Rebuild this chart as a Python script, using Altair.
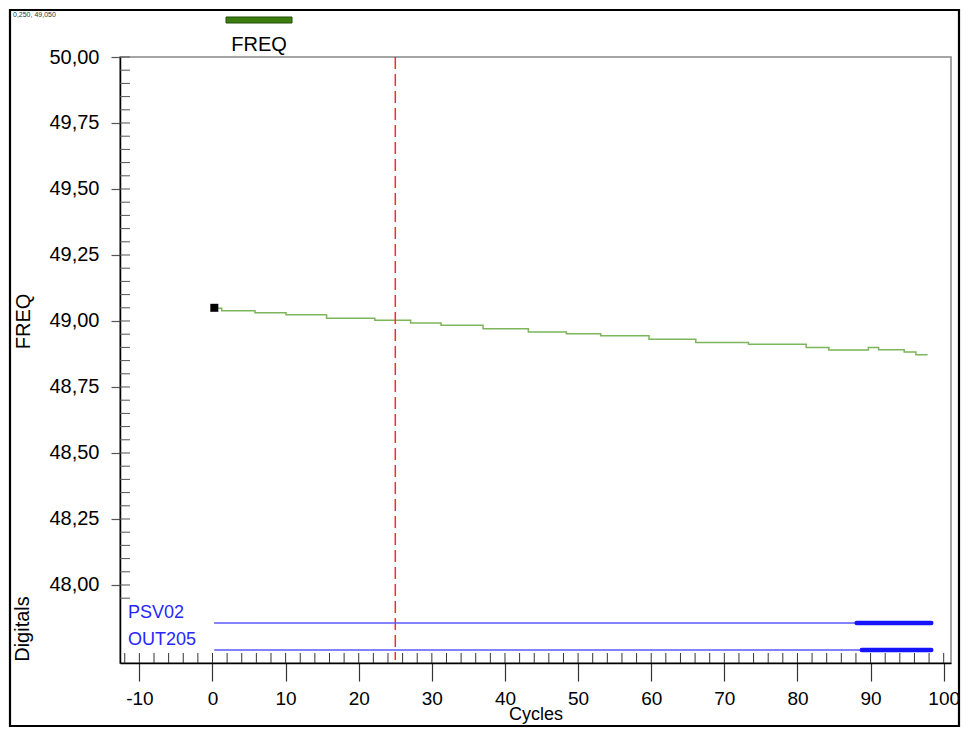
import altair as alt
import pandas as pd

# ---------------- data ----------------
cycles = [0.25, 1.26, 5.81, 10.05, 15.6, 22.2, 27.1, 31.25, 37.0, 43.2, 48.4,
          53.1, 59.7, 66.1, 73.3, 81.2, 84.3, 89.7, 91.1, 94.6, 96.2, 97.8]
freq = [49.048, 49.039, 49.031, 49.024, 49.010, 49.003, 48.992, 48.984, 48.971,
        48.958, 48.952, 48.944, 48.931, 48.919, 48.912, 48.900, 48.890, 48.900,
        48.891, 48.883, 48.872, 48.872]

cursor_cycle = [25]
marker_cycle = [0.25]
marker_freq = [49.05]

digital_names = ["PSV02", "OUT205"]
seg_signal = ["PSV02", "PSV02", "OUT205", "OUT205"]
seg_start = [0.3, 88.1, 0.3, 88.8]
seg_end = [88.1, 98.3, 88.8, 98.3]
seg_state = [0, 1, 0, 1]

y_ticks = [48.0, 48.25, 48.5, 48.75, 49.0, 49.25, 49.5, 49.75, 50.0]
x_ticks = [-10, 0, 10, 20, 30, 40, 50, 60, 70, 80, 90, 100]
x_minor = list(range(-12, 101, 2))
y_minor = [round(47.95 + 0.05 * i, 2) for i in range(42)]

legend_names = ["FREQ"]
cursor_text = "0,250, 49,050"

FONT = "Liberation Sans"
W, H = 831, 606
PAD_L, PAD_T, PAD_R, PAD_B = 112, 49, 10, 64

df_line = pd.DataFrame({"cycle": cycles, "freq": freq})
df_cursor = pd.DataFrame({"cycle": cursor_cycle})
df_marker = pd.DataFrame({"cycle": marker_cycle, "freq": marker_freq})
df_seg = pd.DataFrame({"signal": seg_signal, "start": seg_start, "end": seg_end, "state": seg_state})
df_names = pd.DataFrame({"signal": digital_names})
df_xm = pd.DataFrame({"v": x_minor})
df_ym = pd.DataFrame({"v": y_minor})
df_one = pd.DataFrame({"label": legend_names})

xscale = alt.Scale(domain=[-12.65, 101.0], nice=False, zero=False)
yscale = alt.Scale(domain=[47.7045, 50.0], nice=False, zero=False)
dscale = alt.Scale(type="point", domain=digital_names, range=[566, 593], padding=0)

x_axis = alt.Axis(values=x_ticks,
                  labelExpr="datum.value < 0 ? '-' + abs(datum.value) : '' + datum.value",
                  tickSize=18, tickColor="#333", tickWidth=1.2,
                  domainColor="black", domainWidth=1.5,
                  labelFont=FONT, labelFontSize=19, labelColor="black", labelPadding=8,
                  title="Cycles", titleFont=FONT, titleFontSize=18, titleFontWeight="normal",
                  titleColor="black", titlePadding=-3, grid=False)
y_axis = alt.Axis(values=y_ticks,
                  labelExpr="replace(format(datum.value, '.2f'), '.', ',')",
                  tickSize=9, tickColor="#555", tickWidth=1.2,
                  domainColor="black", domainWidth=1.5,
                  labelFont=FONT, labelFontSize=20, labelColor="black", labelPadding=12,
                  title="FREQ", titleFont=FONT, titleFontSize=20, titleFontWeight="normal",
                  titleColor="black", titleX=-97, titleY=264, titleAngle=270,
                  titleAlign="center", titleBaseline="middle", grid=False)

line = alt.Chart(df_line).mark_line(interpolate="step-after", color="#7cb55a", strokeWidth=1.5).encode(
    x=alt.X("cycle:Q", scale=xscale, axis=x_axis),
    y=alt.Y("freq:Q", scale=yscale, axis=y_axis),
)

ymin = alt.Chart(df_ym).mark_rule(color="#555", strokeWidth=1).encode(
    y=alt.Y("v:Q", scale=yscale), x=alt.value(0), x2=alt.value(10))
xmin = alt.Chart(df_xm).mark_rule(color="#333", strokeWidth=1).encode(
    x=alt.X("v:Q", scale=xscale), y=alt.value(596), y2=alt.value(606))

cursor = alt.Chart(df_cursor).mark_rule(color="#ff2a2a", strokeDash=[12, 5], strokeWidth=1.5).encode(
    x=alt.X("cycle:Q", scale=xscale), y=alt.value(0), y2=alt.value(603))

marker = alt.Chart(df_marker).mark_square(size=64, color="black", filled=True, opacity=1).encode(
    x=alt.X("cycle:Q", scale=xscale), y=alt.Y("freq:Q", scale=yscale))

segs = alt.Chart(df_seg).mark_rule(strokeCap="round").encode(
    x=alt.X("start:Q", scale=xscale), x2="end:Q",
    y=alt.Y("signal:N", scale=dscale, axis=None),
    strokeWidth=alt.StrokeWidth("state:N", scale=alt.Scale(domain=[0, 1], range=[1.5, 4.5]), legend=None),
    color=alt.Color("state:N", scale=alt.Scale(domain=[0, 1], range=["#5a5aff", "#1414ff"]), legend=None),
)
seg_labels = alt.Chart(df_names).mark_text(align="left", baseline="middle", dy=-10, fontSize=18,
                                           font=FONT, color="#2626ff").encode(
    x=alt.value(8), y=alt.Y("signal:N", scale=dscale, axis=None), text="signal:N")
digital = alt.layer(segs, seg_labels)

dig_title = alt.Chart(pd.DataFrame({"t": ["Digitals"]})).mark_text(
    angle=270, fontSize=20, font=FONT, color="black", align="center", baseline="middle").encode(
    x=alt.value(-97), y=alt.value(572), text="t:N")

swatch = alt.Chart(df_one).mark_rect(fill="#3b7d0f", stroke="#24500a", strokeWidth=1).encode(
    x=alt.value(106), x2=alt.value(172), y=alt.value(-40), y2=alt.value(-34))
leg_text = alt.Chart(df_one).mark_text(fontSize=20, font=FONT, color="black", align="center",
                                       baseline="middle").encode(
    x=alt.value(139), y=alt.value(-12), text="label:N")

frame = alt.Chart(df_one).mark_rect(fillOpacity=0, stroke="black", strokeWidth=2.2).encode(
    x=alt.value(-110), x2=alt.value(839), y=alt.value(-47), y2=alt.value(669))

ctext = alt.Chart(pd.DataFrame({"t": [cursor_text]})).mark_text(
    fontSize=7, font=FONT, color="#333", align="left", baseline="middle").encode(
    x=alt.value(-107), y=alt.value(-42), text="t:N")

main = alt.layer(line, ymin, xmin, cursor, marker)
chart = alt.layer(main, digital, dig_title, swatch, leg_text, frame, ctext).resolve_scale(
    y="independent"
).properties(
    width=W, height=H,
    autosize=alt.AutoSizeParams(type="none"),
    padding={"left": PAD_L, "top": PAD_T, "right": PAD_R, "bottom": PAD_B},
    background="white",
).configure_view(stroke="#888", strokeWidth=1.5).configure_axis(grid=False)

chart.save("out.html", embed_options={"renderer": "svg", "actions": False})
